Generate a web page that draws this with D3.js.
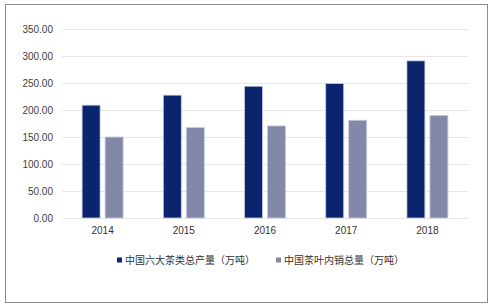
<!DOCTYPE html>
<html>
<head>
<meta charset="utf-8">
<script src="https://cdn.jsdelivr.net/npm/d3@7/dist/d3.min.js"></script>
<style>
  body { margin: 0; background: #fff; }
  text { font-family: "Liberation Sans", Arial, sans-serif; }
</style>
</head>
<body>
<div id="chart"></div>
<script>
// data
var years = ["2014", "2015", "2016", "2017", "2018"];
var production = [209, 227.5, 244, 249, 291];   // 中国六大茶类总产量（万吨）
var domestic = [150, 167.5, 170.5, 181, 190];    // 中国茶叶内销总量（万吨）
var seriesNames = ["中国六大茶类总产量（万吨）", "中国茶叶内销总量（万吨）"];
var yTicks = [0, 50, 100, 150, 200, 250, 300, 350];

var W = 493, H = 307;
var margin = {top: 29, right: 25, bottom: 89, left: 62},
    width = W - margin.left - margin.right,
    height = H - margin.top - margin.bottom;

var colors = ["#0a246e", "#8388a8"];

var svg = d3.select("#chart").append("svg")
    .attr("width", W)
    .attr("height", H);

// outer frame
svg.append("rect")
    .attr("x", 5.5).attr("y", 4.5)
    .attr("width", 482).attr("height", 298)
    .attr("fill", "none")
    .attr("stroke", "#8c8c8c")
    .attr("stroke-width", 1);

var g = svg.append("g")
    .attr("transform", "translate(" + margin.left + "," + margin.top + ")");

var x = d3.scaleBand()
    .domain(years)
    .range([0, width])
    .padding(0);

var y = d3.scaleLinear()
    .domain([0, 350])
    .range([height, 0]);

// gridlines
g.selectAll(".grid")
    .data(yTicks)
    .enter().append("line")
    .attr("class", "grid")
    .attr("x1", 0).attr("x2", width)
    .attr("y1", function(d) { return Math.round(y(d)) + 0.5; })
    .attr("y2", function(d) { return Math.round(y(d)) + 0.5; })
    .attr("stroke", "#e6e6e6")
    .attr("stroke-width", 1.2);

// y axis labels
var yAxis = g.append("g")
    .call(d3.axisLeft(y).tickValues(yTicks).tickFormat(d3.format(".2f")).tickSize(0).tickPadding(9));
yAxis.select(".domain").remove();
yAxis.selectAll("text")
    .attr("font-size", "10px")
    .attr("fill", "#404040")
    .style("font-family", "'Liberation Sans', Arial, sans-serif");

// bars: two per year, 18px wide with a 5px gap, centred in the band
var barW = 18, gap = 5;
var series = [production, domestic];

series.forEach(function(vals, si) {
    g.selectAll(".bar" + si)
        .data(vals)
        .enter().append("rect")
        .attr("class", "bar" + si)
        .attr("x", function(d, i) {
            var c = x(years[i]) + x.bandwidth() / 2;
            return si === 0 ? c - gap / 2 - barW : c + gap / 2;
        })
        .attr("y", function(d) { return y(d); })
        .attr("width", barW)
        .attr("height", function(d) { return height - y(d); })
        .attr("fill", colors[si])
        .attr("stroke", "#c9cde0")
        .attr("stroke-width", 0.8);
});

// x axis labels
var xAxis = g.append("g")
    .attr("transform", "translate(0," + height + ")")
    .call(d3.axisBottom(x).tickSize(0).tickPadding(9));
xAxis.select(".domain").remove();
xAxis.selectAll("text")
    .attr("font-size", "10px")
    .attr("fill", "#333")
    .style("font-family", "'Liberation Sans', Arial, sans-serif");

// legend
var legendX = [117, 276];
var legend = svg.selectAll(".legend")
    .data(seriesNames)
    .enter().append("g")
    .attr("class", "legend")
    .attr("transform", function(d, i) { return "translate(" + legendX[i] + ",260)"; });

legend.append("rect")
    .attr("x", 0).attr("y", -2.5)
    .attr("width", 5).attr("height", 5)
    .attr("fill", function(d, i) { return colors[i]; });

legend.append("text")
    .attr("x", 8)
    .attr("y", 0)
    .attr("dy", "0.35em")
    .attr("font-size", "10px")
    .attr("fill", "#333")
    .style("font-family", "'Noto Sans CJK SC', sans-serif")
    .text(function(d) { return d; });
</script>
</body>
</html>
